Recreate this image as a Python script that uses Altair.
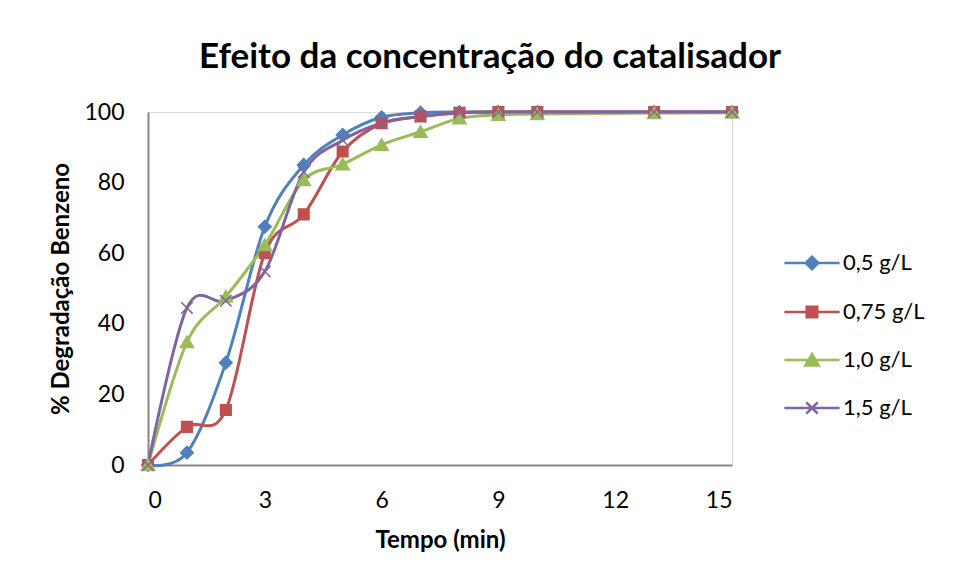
import altair as alt
import pandas as pd

# ---- data ----
tempo_min = [0, 1, 2, 3, 4, 5, 6, 7, 8, 9, 10, 13, 15]
serie_nomes = ["0,5 g/L", "0,75 g/L", "1,0 g/L", "1,5 g/L"]
deg_05 = [0, 3.5, 29, 67.5, 85, 93.5, 98.5, 99.8, 100, 100, 100, 100, 100]
deg_075 = [0, 10.8, 15.6, 60, 71, 88.8, 96.8, 98.7, 99.8, 100, 100, 100, 100]
deg_10 = [0, 34.8, 47.7, 62.3, 80.7, 85.2, 90.7, 94.4, 98.2, 99.2, 99.4, 99.7, 99.8]
deg_15 = [0, 44.5, 46.5, 54.8, 83, 92, 96.8, 98.7, 99.8, 100, 100, 100, 100]
cores = ["#4F81BD", "#C0504D", "#9BBB59", "#8064A2"]
x_ticks = [0, 3, 6, 9, 12, 15]
y_ticks = [0, 20, 40, 60, 80, 100]

marcadores = [
    "M0,-1.05L1.05,0L0,1.05L-1.05,0Z",
    "M-0.88,-0.88H0.88V0.88H-0.88Z",
    "M0,-1L1.1,0.9L-1.1,0.9Z",
    "M-0.95,-0.95L0.95,0.95M-0.95,0.95L0.95,-0.95",
]
marcadores_legenda = [m + "M-4.6,0H4.6" for m in marcadores]

linhas = []
for nome, vals in zip(serie_nomes, [deg_05, deg_075, deg_10, deg_15]):
    for t, v in zip(tempo_min, vals):
        linhas.append({"serie": nome, "tempo": t, "deg": v})
df = pd.DataFrame(linhas)

FONT = "Lato"
AX_GRAY = "#868686"

x_enc = alt.X(
    "tempo:Q",
    scale=alt.Scale(domain=[0, 15], nice=False, zero=False),
    axis=alt.Axis(
        values=x_ticks, title="Tempo (min)", grid=False, ticks=False,
        domainColor=AX_GRAY, domainWidth=2, labelFont=FONT, labelFontSize=23,
        labelColor="black", labelPadding=24, titleFont=FONT, titleFontSize=24,
        titleFontWeight="bold", titleColor="black", titlePadding=16,
    ),
)
y_enc = alt.Y(
    "deg:Q",
    scale=alt.Scale(domain=[0, 100], nice=False),
    axis=alt.Axis(
        values=y_ticks, title="% Degradação Benzeno", grid=False, ticks=False,
        domainColor=AX_GRAY, domainWidth=2, labelFont=FONT, labelFontSize=23,
        labelColor="black", labelPadding=24, titleFont=FONT, titleFontSize=24,
        titleFontWeight="bold", titleColor="black", titlePadding=10,
    ),
)

cor_scale = alt.Scale(domain=serie_nomes, range=cores)

base = alt.Chart(df)

linhas_layer = base.mark_line(interpolate="cardinal", strokeWidth=3).encode(
    x=x_enc, y=y_enc,
    color=alt.Color("serie:N", scale=cor_scale, legend=None),
    order=alt.Order("tempo:Q"),
)

pontos_layer = base.mark_point(filled=True, size=144, strokeWidth=1.5, opacity=1).encode(
    x=x_enc, y=y_enc,
    fill=alt.Fill("serie:N", scale=cor_scale, legend=None),
    stroke=alt.Stroke("serie:N", scale=cor_scale, legend=None),
    shape=alt.Shape("serie:N", scale=alt.Scale(domain=serie_nomes, range=marcadores), legend=None),
)

legenda = alt.Legend(
    title=None, orient="none", legendX=653, legendY=140,
    symbolSize=144, symbolStrokeWidth=2.5, symbolOpacity=1,
    labelFont=FONT, labelFontSize=22, labelColor="black", labelOffset=20,
    rowPadding=26, padding=0,
)
legenda_layer = base.mark_point(filled=True, size=144, opacity=0).encode(
    x=x_enc, y=y_enc,
    fill=alt.Fill("serie:N", scale=cor_scale, legend=legenda),
    stroke=alt.Stroke("serie:N", scale=cor_scale, legend=legenda),
    shape=alt.Shape("serie:N", scale=alt.Scale(domain=serie_nomes, range=marcadores_legenda), legend=legenda),
)

chart = (
    alt.layer(linhas_layer, pontos_layer, legenda_layer)
    .resolve_scale(color="independent", fill="independent", stroke="independent", shape="independent")
    .properties(
        width=584, height=353,
        title=alt.Title(
            "Efeito da concentração do catalisador",
            font=FONT, fontSize=35, fontWeight="bold",
            color="black", anchor="middle", dx=50, offset=26,
        ),
        autosize=alt.AutoSizeParams(type="none"),
        padding={"left": 140, "top": 104, "right": 214, "bottom": 100},
    )
    .configure_view(stroke=None)
    .configure(background="white")
)

chart.save("out.html", embed_options={"renderer": "svg", "actions": False})
